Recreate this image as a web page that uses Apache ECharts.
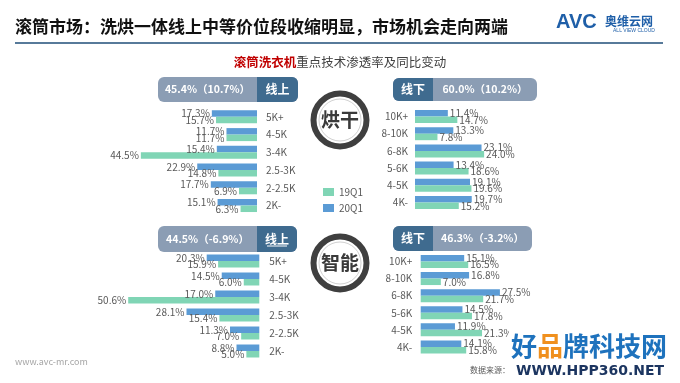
<!DOCTYPE html>
<html><head><meta charset="utf-8">
<script src="https://cdn.jsdelivr.net/npm/echarts@6/dist/echarts.min.js"></script>
<style>html,body{margin:0;padding:0;background:#fff}#c{width:680px;height:383px}</style>
</head><body><div id="c"></div>
<script>
const onlineCats = ['5K+','4-5K','3-4K','2.5-3K','2-2.5K','2K-'];
const offlineCats = ['10K+','8-10K','6-8K','5-6K','4-5K','4K-'];
const dryOnline20 = [17.3, 11.7, 15.4, 22.9, 17.7, 15.1];
const dryOnline19 = [15.7, 11.7, 44.5, 14.8, 6.9, 6.3];
const dryOffline20 = [11.4, 13.3, 23.1, 13.4, 19.1, 19.7];
const dryOffline19 = [14.7, 7.8, 24.0, 18.6, 19.6, 15.2];
const smartOnline20 = [20.3, 14.5, 17.0, 28.1, 11.3, 8.8];
const smartOnline19 = [15.9, 6.0, 50.6, 15.4, 7.0, 5.0];
const smartOffline20 = [15.1, 16.8, 27.5, 14.5, 11.9, 14.1];
const smartOffline19 = [16.5, 7.0, 21.7, 17.8, 21.3, 15.8];
const headerTexts = ['45.4%（10.7%）','60.0%（10.2%）','44.5%（-6.9%）','46.3%（-3.2%）'];

const BLUE = '#5b9bd5', TEAL = '#80d5b5';
const FONT = '"Noto Sans CJK SC","Noto Sans",sans-serif';
const chart = echarts.init(document.getElementById('c'), null, {renderer:'canvas'});

const grids = [
  {left:126.5, width:130.5, top:108, height:106.4},
  {left:415, width:86.4, top:107.9, height:103.2},
  {left:116.8, width:142.5, top:252, height:108},
  {left:420.7, width:86.4, top:252.9, height:102.6}
];
const maxes = [50, 30, 55, 30];
const isLeft = [true, false, true, false];
const cats = [onlineCats, offlineCats, onlineCats, offlineCats];
const margins = [9, 7, 10, 8.5];
const data20 = [dryOnline20, dryOffline20, smartOnline20, smartOffline20];
const data19 = [dryOnline19, dryOffline19, smartOnline19, smartOffline19];

const lbl = (pos) => ({show:true, position:pos, distance:2, fontSize:10, color:'#595959', fontFamily:FONT,
  formatter: p => p.value.toFixed(1) + '%'});

const series = [];
for (let i=0;i<4;i++){
  series.push({name:'20Q1', type:'bar', xAxisIndex:i, yAxisIndex:i, data:data20[i], barWidth:6.5, barGap:'0%',
    itemStyle:{color:BLUE}, label:lbl(isLeft[i]?'left':'right'), silent:true});
  series.push({name:'19Q1', type:'bar', xAxisIndex:i, yAxisIndex:i, data:data19[i], barWidth:6.5, barGap:'0%',
    itemStyle:{color:TEAL}, label:lbl(isLeft[i]?'left':'right'), silent:true});
}

const g = [];
// title
g.push({type:'text', style:{text:'滚筒市场：洗烘一体线上中等价位段收缩明显，市场机会走向两端', x:15, y:27,
  textVerticalAlign:'middle', fill:'#111', fontSize:17, fontWeight:'bold', fontFamily:FONT}});
g.push({type:'line', shape:{x1:15, y1:43, x2:663, y2:43}, style:{stroke:'#1f4e79', lineWidth:1.5}});
// logo
g.push({type:'text', style:{text:'AVC', x:556, y:22, textVerticalAlign:'middle', fill:'#1f5fa8', fontSize:20, fontWeight:'bold', fontFamily:'"Liberation Sans",sans-serif'}});
g.push({type:'text', style:{text:'奥维云网', x:605, y:21, textVerticalAlign:'middle', fill:'#1f5fa8', fontSize:12, fontWeight:'bold', fontFamily:FONT}});
g.push({type:'text', style:{text:'ALL VIEW CLOUD', x:634, y:31, textAlign:'center', textVerticalAlign:'middle', fill:'#1f5fa8', fontSize:5, fontFamily:'"Liberation Sans",sans-serif'}});
// subtitle
g.push({type:'text', style:{text:'{r|滚筒洗衣机}{g|重点技术渗透率及同比变动}', x:340, y:62, textAlign:'center', textVerticalAlign:'middle',
  rich:{r:{fill:'#c00000', fontSize:12.5, fontWeight:'bold', fontFamily:FONT}, g:{fill:'#404040', fontSize:12.5, fontFamily:FONT}}}});

// headers
const LIGHT = '#8b9db4', DARK = '#3f6b8f';
function header(x, y, w, h, darkX, darkW, darkLeft, label, pct){
  g.push({type:'rect', shape:{x:x, y:y, width:w, height:h, r:6}, style:{fill:LIGHT}});
  g.push({type:'rect', shape:{x:darkX, y:y, width:darkW, height:h, r: darkLeft?[6,0,0,6]:[0,6,6,0]}, style:{fill:DARK}});
  g.push({type:'text', style:{text:label, x:darkX+darkW/2, y:y+h/2, textAlign:'center', textVerticalAlign:'middle', fill:'#fff', fontSize:12, fontWeight:'bold', fontFamily:FONT}});
  const lx = darkLeft ? (darkX+darkW + x+w)/2 : (x + darkX)/2;
  g.push({type:'text', style:{text:pct, x:lx, y:y+h/2, textAlign:'center', textVerticalAlign:'middle', fill:'#fff', fontSize:10.5, fontWeight:'bold', fontFamily:FONT}});
}
header(158, 77, 140, 25, 257, 41, false, '线上', headerTexts[0]);
header(393, 78, 144, 23, 393, 40, true, '线下', headerTexts[1]);
header(158, 226, 139, 26, 257, 40, false, '线上', headerTexts[2]);
g.push({type:'line', shape:{x1:267, y1:246, x2:287, y2:246}, style:{stroke:'#fff', lineWidth:1}});
header(393, 226, 139, 25, 393, 40, true, '线下', headerTexts[3]);

// circles
function ring(cx, cy, txt){
  g.push({type:'circle', shape:{cx:cx, cy:cy, r:26.5}, style:{fill:'#fff', stroke:'#3f3f3f', lineWidth:6}});
  g.push({type:'circle', shape:{cx:cx, cy:cy, r:21}, style:{fill:'none', stroke:'#d0d0d0', lineWidth:1}});
  g.push({type:'text', style:{text:txt, x:cx, y:cy, textAlign:'center', textVerticalAlign:'middle', fill:'#3a3a3a', fontSize:19, fontWeight:'bold', fontFamily:FONT}});
}
ring(340, 120, '烘干');
ring(340, 263, '智能');

// footer
g.push({type:'text', style:{text:'www.avc-mr.com', x:15, y:362, textVerticalAlign:'middle', fill:'#a6a6a6', fontSize:9, fontFamily:FONT}});
g.push({type:'text', style:{text:'数据来源：I', x:470, y:370, textVerticalAlign:'middle', fill:'#595959', fontSize:8, fontFamily:FONT}});
g.push({type:'rect', z:100, shape:{x:509, y:326, width:171, height:57}, style:{fill:'#fff'}});
g.push({type:'text', z:101, style:{text:'{b|好}{o|品}{b|牌科技网}', x:589, y:346, textAlign:'center', textVerticalAlign:'middle',
  rich:{b:{fill:'#1e72bd', fontSize:26, fontWeight:'bold', fontFamily:FONT}, o:{fill:'#f0901e', fontSize:26, fontWeight:'bold', fontFamily:FONT}}}});
g.push({type:'text', z:101, style:{text:'WWW.HPP360.NET', x:590, y:371, textAlign:'center', textVerticalAlign:'middle', fill:'#1c3560', fontSize:14, fontWeight:'bold', fontFamily:'"DejaVu Sans",sans-serif'}});

chart.setOption({
  animation:false,
  backgroundColor:'#fff',
  legend:{data:['19Q1','20Q1'], orient:'vertical', left:318, top:182, itemWidth:11, itemHeight:8, itemGap:6, icon:'rect',
    textStyle:{fontSize:10, color:'#595959', fontFamily:FONT}, selectedMode:false},
  grid: grids,
  xAxis: grids.map((gr,i)=>({type:'value', gridIndex:i, min:0, max:maxes[i], inverse:isLeft[i], show:false})),
  yAxis: grids.map((gr,i)=>({type:'category', gridIndex:i, data:cats[i], inverse:true, position:isLeft[i]?'right':'left',
    axisLine:{show:false}, axisTick:{show:false}, splitLine:{show:false},
    axisLabel:{margin:margins[i], fontSize:10, color:'#595959', fontFamily:FONT}})),
  series: series,
  graphic: g
});
</script></body></html>
